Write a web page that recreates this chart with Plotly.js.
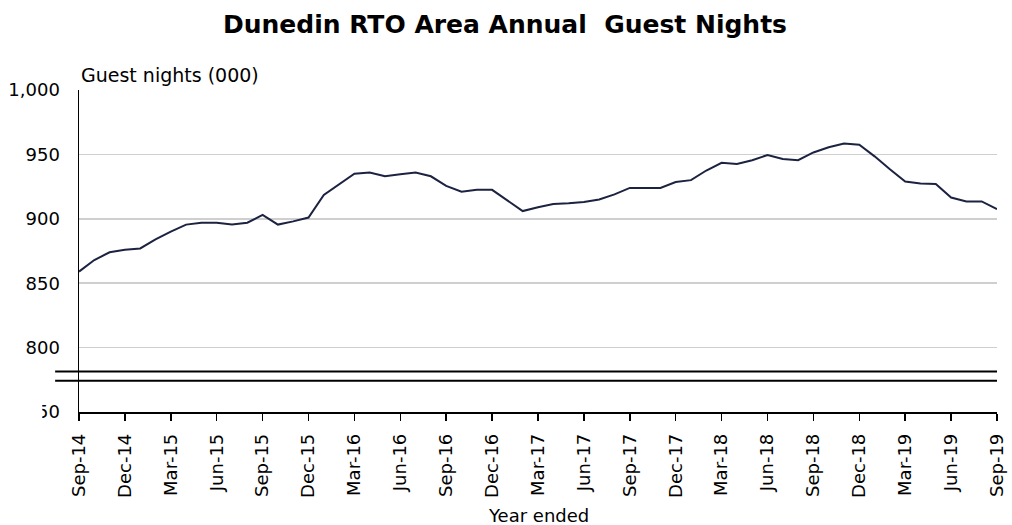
<!DOCTYPE html>
<html>
<head>
<meta charset="utf-8">
<script src="https://cdn.plot.ly/plotly-3.0.1.min.js"></script>
<style>html,body{margin:0;padding:0;background:#fff;}#chart{width:1012px;height:525px;}</style>
</head>
<body>
<div id="chart"></div>
<script>
// Year ended (monthly, Sep-14 to Sep-19)
const months = [
  "Sep-14","Oct-14","Nov-14","Dec-14","Jan-15","Feb-15","Mar-15","Apr-15","May-15","Jun-15","Jul-15","Aug-15",
  "Sep-15","Oct-15","Nov-15","Dec-15","Jan-16","Feb-16","Mar-16","Apr-16","May-16","Jun-16","Jul-16","Aug-16",
  "Sep-16","Oct-16","Nov-16","Dec-16","Jan-17","Feb-17","Mar-17","Apr-17","May-17","Jun-17","Jul-17","Aug-17",
  "Sep-17","Oct-17","Nov-17","Dec-17","Jan-18","Feb-18","Mar-18","Apr-18","May-18","Jun-18","Jul-18","Aug-18",
  "Sep-18","Oct-18","Nov-18","Dec-18","Jan-19","Feb-19","Mar-19","Apr-19","May-19","Jun-19","Jul-19","Aug-19",
  "Sep-19"
];
// Annual guest nights (000)
const guestNights = [
  859, 868, 874, 876, 877, 884, 890, 895.5, 897, 897, 895.5, 897,
  903, 895.5, 898, 901, 918.5, 926.5, 935, 936, 933, 934.5, 936, 933,
  925.5, 921, 922.5, 922.5, 914, 906, 909, 911.5, 912, 913, 915, 919,
  924, 924, 924, 928.5, 930, 937.5, 943.5, 942.5, 945.5, 949.5, 946.5, 945.5,
  951.5, 955.5, 958.5, 957.5, 948.5, 938.5, 929, 927.5, 927, 916.5, 913.5, 913.5,
  907.5
];
const tickLabels = ["Sep-14","Dec-14","Mar-15","Jun-15","Sep-15","Dec-15","Mar-16","Jun-16","Sep-16","Dec-16",
  "Mar-17","Jun-17","Sep-17","Dec-17","Mar-18","Jun-18","Sep-18","Dec-18","Mar-19","Jun-19","Sep-19"];
const yTicks = [750, 800, 850, 900, 950, 1000];
const breakLevels = [781.5, 774.3];

const FONT = "DejaVu Sans, Liberation Sans, Arial, sans-serif";

const trace = {
  x: months, y: guestNights, type: "scatter", mode: "lines",
  line: {color: "#1c2341", width: 2}, hoverinfo: "x+y"
};

const shapes = breakLevels.map(v => ({
  type: "line", xref: "paper", yref: "y", x0: -0.026, x1: 1, y0: v, y1: v,
  line: {color: "#000", width: 2}, layer: "above"
}));
shapes.push({
  type: "rect", xref: "paper", yref: "paper", x0: -0.087, x1: -0.040, y0: -0.035, y1: 0.028,
  fillcolor: "#fff", line: {width: 0}, layer: "above"
});

const layout = {
  width: 1012, height: 525,
  paper_bgcolor: "#fff", plot_bgcolor: "#fff",
  margin: {l: 79, r: 15, t: 90, b: 113},
  showlegend: false,
  font: {family: FONT, color: "#000", size: 18},
  title: {
    text: "<b>Dunedin RTO Area Annual  Guest Nights</b>",
    font: {family: FONT, size: 25, color: "#000"},
    x: 0.499, xanchor: "center", xref: "container",
    y: 1 - 24/525, yanchor: "middle", yref: "container"
  },
  xaxis: {
    type: "category", range: [0, months.length - 1],
    tickmode: "array", tickvals: tickLabels, ticktext: tickLabels,
    tickangle: -90, ticks: "outside", ticklen: 7, tickwidth: 1.5, tickcolor: "#000",
    ticklabelstandoff: 6,
    showline: true, linecolor: "#000", linewidth: 1.5,
    showgrid: false, zeroline: false,
    tickfont: {family: FONT, size: 18, color: "#000"}
  },
  yaxis: {
    range: [750, 1000], tickmode: "array", tickvals: yTicks,
    tickformat: ",d", ticks: "", ticklabelstandoff: 14,
    showline: true, linecolor: "#000", linewidth: 1.5,
    showgrid: true, gridcolor: "#cfcfcf", gridwidth: 1.5, zeroline: false,
    tickfont: {family: FONT, size: 18, color: "#000"}
  },
  shapes: shapes,
  annotations: [
    {text: "Guest nights (000)", xref: "paper", yref: "paper", x: 0, y: 1.005,
     xanchor: "left", yanchor: "bottom", showarrow: false,
     font: {family: FONT, size: 19, color: "#000"}},
    {text: "Year ended", xref: "paper", yref: "paper", x: 0.5, y: -0.32,
     xanchor: "center", yanchor: "middle", showarrow: false,
     font: {family: FONT, size: 18, color: "#000"}}
  ]
};

Plotly.newPlot("chart", [trace], layout, {displayModeBar: false, staticPlot: true});
</script>
</body>
</html>
